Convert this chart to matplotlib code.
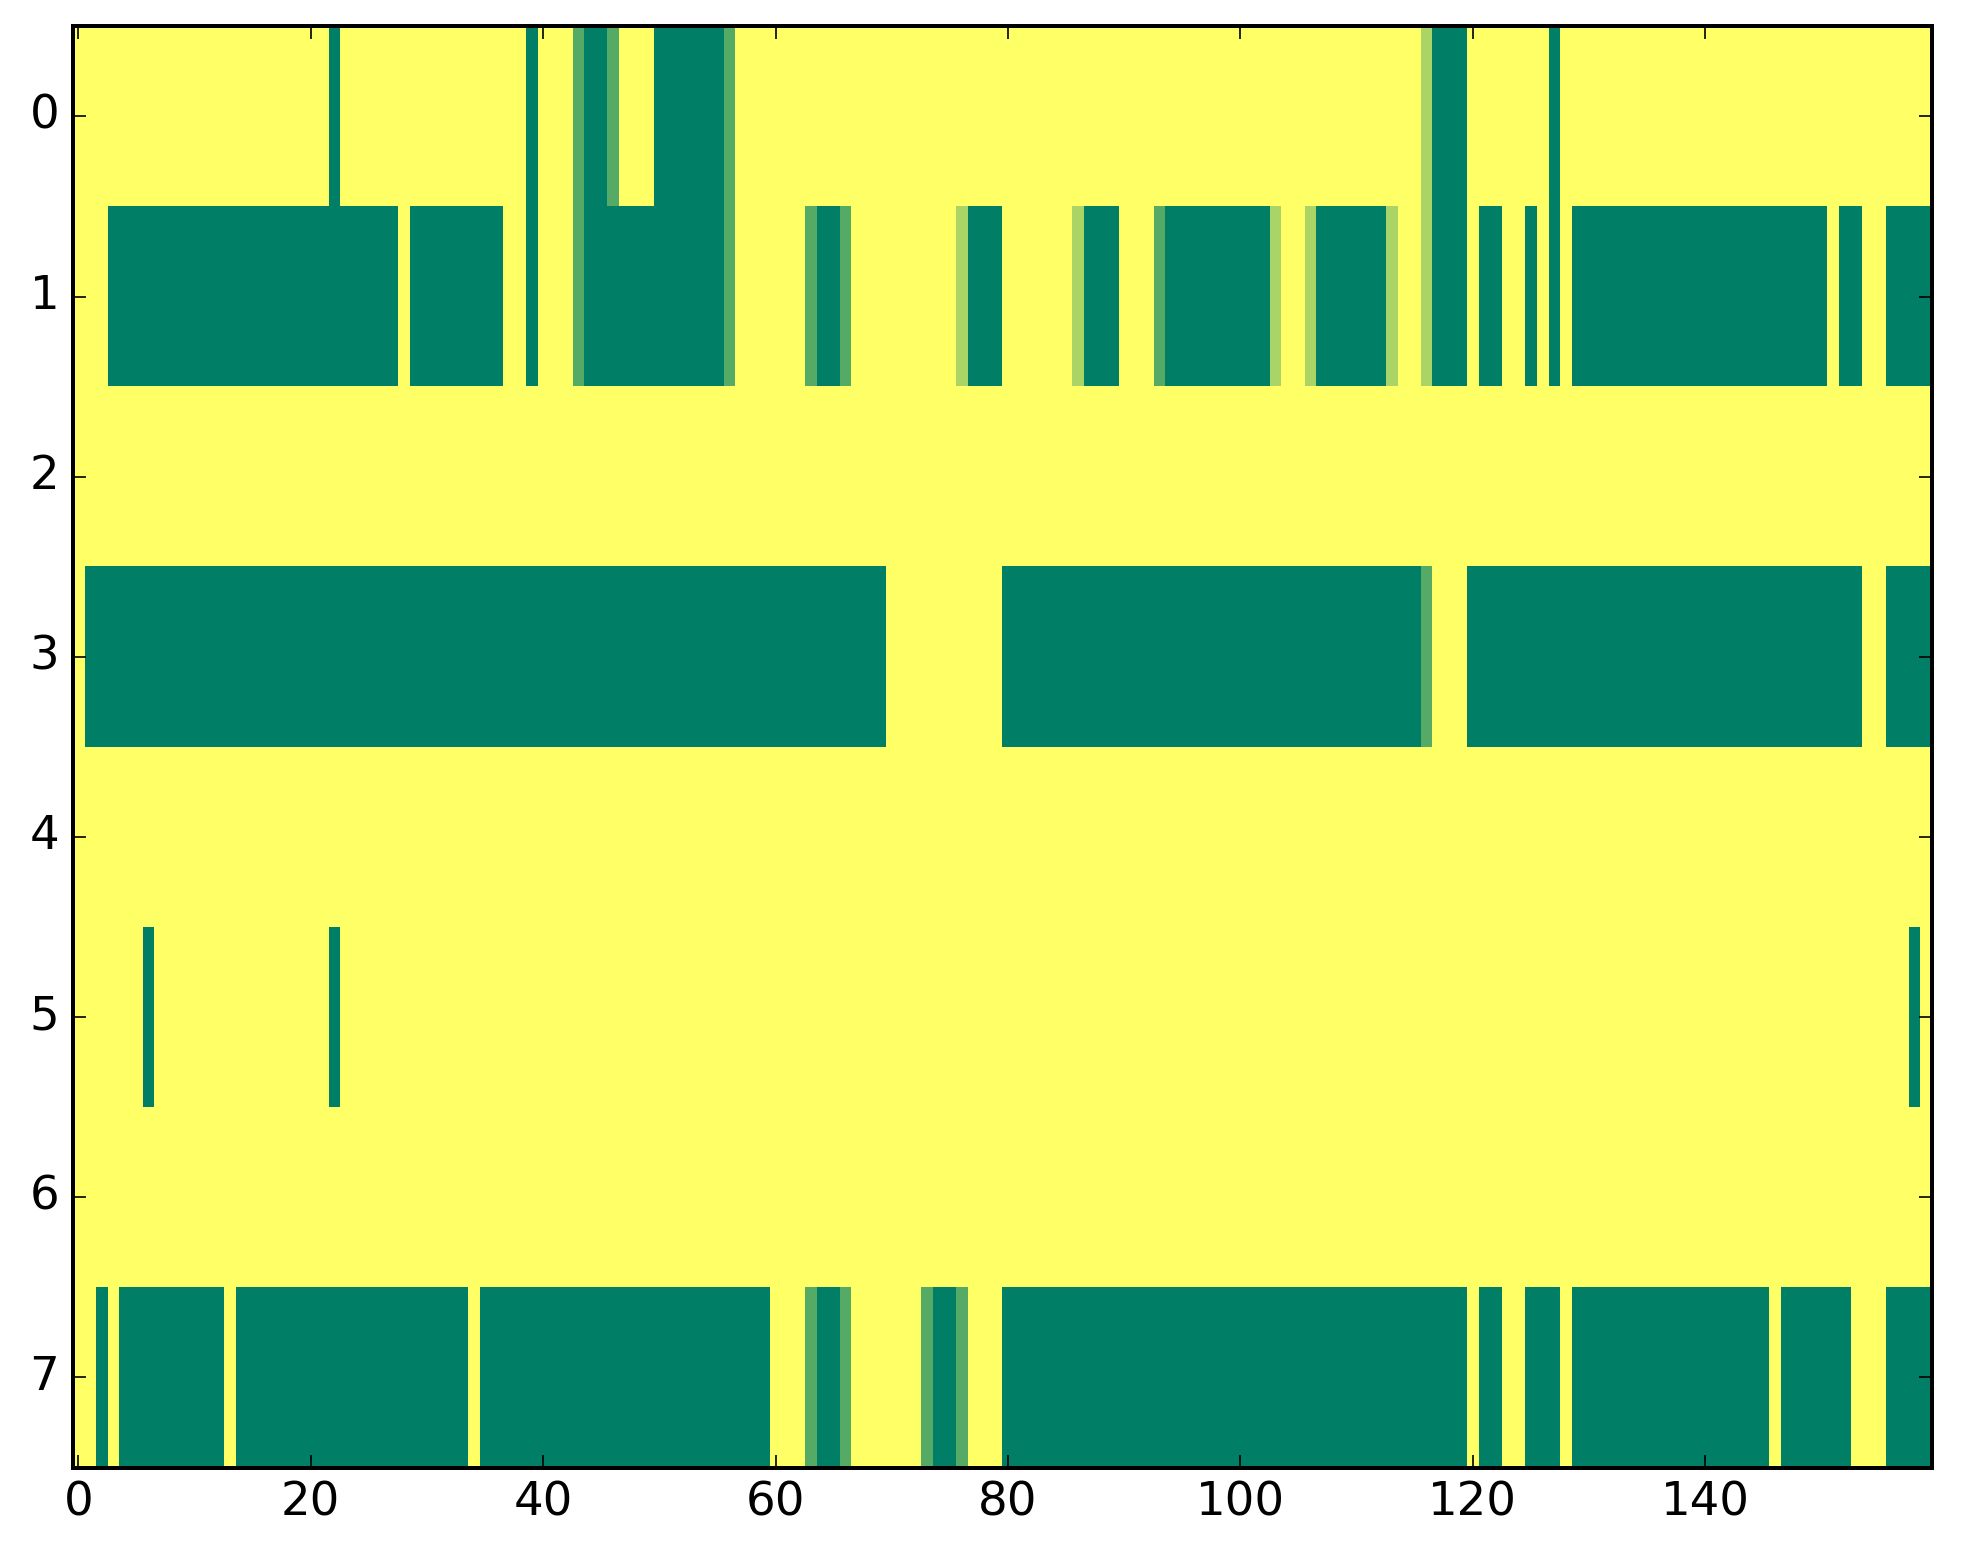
import numpy as np
import matplotlib
matplotlib.use("Agg")
import matplotlib.pyplot as plt

plt.style.use('classic')
plt.rcParams['font.size'] = 14
plt.rcParams['axes.linewidth'] = 1.2

n_rows = 8
n_cols = 160

# levels: 0 = dark green, 1 = medium, 2 = light, 3 = yellow (background)
# each run: (first column, last column, level)
row0 = [(22, 22, 0), (39, 39, 0), (43, 43, 1), (44, 45, 0), (46, 46, 1),
        (50, 55, 0), (56, 56, 1), (116, 116, 2), (117, 119, 0), (127, 127, 0)]
row1 = [(3, 27, 0), (29, 36, 0), (39, 39, 0), (43, 43, 1), (44, 55, 0),
        (56, 56, 1), (63, 63, 1), (64, 65, 0), (66, 66, 1), (76, 76, 2),
        (77, 79, 0), (86, 86, 2), (87, 89, 0), (93, 93, 1), (94, 102, 0),
        (103, 103, 2), (106, 106, 2), (107, 112, 0), (113, 113, 2),
        (116, 116, 2), (117, 119, 0), (121, 122, 0), (125, 125, 0),
        (127, 127, 0), (129, 150, 0), (152, 153, 0), (156, 159, 0)]
row2 = []
row3 = [(1, 69, 0), (80, 115, 0), (116, 116, 1), (120, 153, 0), (156, 159, 0)]
row4 = []
row5 = [(6, 6, 0), (22, 22, 0), (158, 158, 0)]
row6 = []
row7 = [(2, 2, 0), (4, 12, 0), (14, 33, 0), (35, 59, 0), (63, 63, 1),
        (64, 65, 0), (66, 66, 1), (73, 73, 1), (74, 75, 0), (76, 76, 1),
        (80, 119, 0), (121, 122, 0), (125, 127, 0), (129, 145, 0),
        (147, 152, 0), (156, 159, 0)]

rows = [row0, row1, row2, row3, row4, row5, row6, row7]

data = np.full((n_rows, n_cols), 3.0)
for r, runs in enumerate(rows):
    for a, b, lev in runs:
        data[r, a:b + 1] = lev

fig = plt.figure(figsize=(1963 / 240, 1564 / 240), dpi=240, facecolor='white')
ax = fig.add_axes([0.037, 0.0617, 0.947, 0.9215])
ax.imshow(data / 3.0, cmap='summer', vmin=0, vmax=1, aspect='auto',
          interpolation='nearest')
ax.set_xticks(np.arange(0, 160, 20))
ax.set_yticks(np.arange(0, 8))
ax.set_xlim(-0.5, 159.5)
ax.set_ylim(7.5, -0.5)

fig.savefig('out.png', dpi=240, facecolor='white')
